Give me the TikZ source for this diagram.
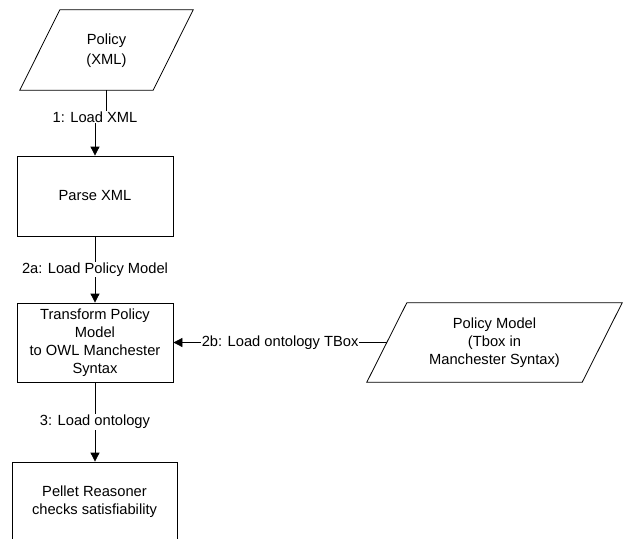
\documentclass[tikz,border=0pt]{standalone}
\usepackage{fontspec}
\setmainfont{Liberation Sans}
\usetikzlibrary{arrows.meta,calc}
\begin{document}
\begin{tikzpicture}[x=1pt,y=-1pt,
  every node/.style={font=\fontsize{14.7}{18}\selectfont},
  box/.style={draw, line width=0.8pt, align=center, minimum width=156pt, minimum height=80pt, inner sep=0pt},
  plain/.style={align=center, inner sep=0pt},
  para/.style={line width=0.8pt},
  conn/.style={line width=0.8pt, -{Triangle[length=9pt,width=9pt]}},
  lbl/.style={fill=white, inner sep=1pt}]
\useasboundingbox (0,0) rectangle (623,538);
\clip (0,0) rectangle (623,538);

% nodes
\node[plain, minimum width=173pt, minimum height=80pt, font=\fontsize{14.7}{20}\selectfont, text depth=2pt] (pol) at (106.5,50) {Policy\\(XML)};
\draw[para] ($(pol.north west)+(40,0)$) -- (pol.north east) -- ($(pol.south east)+(-40,0)$) -- (pol.south west) -- cycle;

\node[box] (parse) at (95,196) {Parse XML};
\node[box, minimum height=79pt] (trans) at (95,342.5) {Transform Policy\\Model\\to OWL Manchester\\Syntax};
\node[box, minimum width=165pt, text depth=3pt] (pel) at (94.5,502) {Pellet Reasoner\\checks satisfiability};

\node[plain, minimum width=255pt, minimum height=79pt] (pm) at (494.5,342.5) {Policy Model\\(Tbox in\\Manchester Syntax)};
\draw[para] ($(pm.north west)+(40,0)$) -- (pm.north east) -- ($(pm.south east)+(-40,0)$) -- (pm.south west) -- cycle;

% connectors
\coordinate (j1) at (106.5,117);
\coordinate (j2) at (95,117);
\draw[conn] (pol.south) -- (j1) -- (j2) -- (parse.north);
\node[lbl] (l1) at (95,117) {1: Load XML};

\draw[conn] (parse.south) -- node[lbl] (l2a) {2a: Load Policy Model} (trans.north);

\coordinate (s2b) at ($(pm.west)+(20,0)$);
\draw[conn] (s2b) -- node[lbl] (l2b) {2b: Load ontology TBox} (trans.east);

\draw[conn] (trans.south) -- node[lbl] (l3) {3: Load ontology} (trans.south |- pel.north);
\end{tikzpicture}
\end{document}
